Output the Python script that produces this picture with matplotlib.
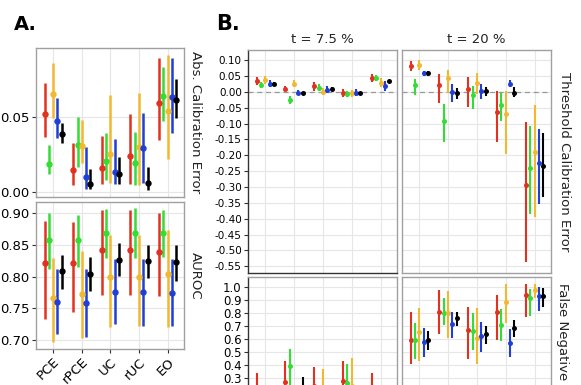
import numpy as np
import matplotlib
matplotlib.use('Agg')
import matplotlib.pyplot as plt
from matplotlib.ticker import MultipleLocator, FixedLocator, FormatStrFormatter

plt.rcParams['font.family'] = ['DejaVu Sans']
plt.rcParams['axes.unicode_minus'] = False

# 数据
categories = ['PCE', 'rPCE', 'UC', 'rUC', 'EO']
colors = ['#e2321f', '#33dd33', '#f2b830', '#1f3fd6', '#000000']
offsets = [-0.3, -0.15, 0.0, 0.15, 0.3]

# A. Abs. Calibration Error (one row per method: red, green, orange, blue, black)
ace_pt = [[0.0516, 0.0143, 0.0160, 0.0238, 0.0589],
          [0.0185, 0.0310, 0.0205, 0.0193, 0.0640],
          [0.0650, 0.0305, 0.0249, 0.0296, 0.0540],
          [0.0471, 0.0100, 0.0133, 0.0289, 0.0633],
          [0.0385, 0.0051, 0.0118, 0.0056, 0.0611]]
ace_lo = [[0.0367, 0.0045, 0.0051, 0.0049, 0.0345],
          [0.0118, 0.0163, 0.0078, 0.0043, 0.0473],
          [0.0490, 0.0193, 0.0056, 0.0043, 0.0216],
          [0.0360, 0.0020, 0.0049, 0.0060, 0.0393],
          [0.0327, 0.0016, 0.0051, 0.0011, 0.0490]]
ace_hi = [[0.0723, 0.0322, 0.0371, 0.0516, 0.0889],
          [0.0310, 0.0496, 0.0393, 0.0400, 0.0833],
          [0.0856, 0.0478, 0.0645, 0.0656, 0.0911],
          [0.0623, 0.0296, 0.0350, 0.0523, 0.0889],
          [0.0460, 0.0150, 0.0229, 0.0163, 0.0750]]

# A. AUROC
auc_pt = [[0.821, 0.821, 0.843, 0.843, 0.839],
          [0.858, 0.858, 0.869, 0.869, 0.869],
          [0.766, 0.773, 0.799, 0.799, 0.804],
          [0.760, 0.759, 0.776, 0.776, 0.775],
          [0.809, 0.805, 0.827, 0.825, 0.823]]
auc_lo = [[0.734, 0.745, 0.771, 0.771, 0.769],
          [0.813, 0.816, 0.830, 0.829, 0.831],
          [0.697, 0.704, 0.721, 0.722, 0.721],
          [0.709, 0.705, 0.725, 0.722, 0.722],
          [0.780, 0.777, 0.801, 0.798, 0.794]]
auc_hi = [[0.888, 0.887, 0.906, 0.906, 0.901],
          [0.900, 0.897, 0.907, 0.908, 0.906],
          [0.829, 0.841, 0.866, 0.866, 0.874],
          [0.812, 0.813, 0.828, 0.828, 0.828],
          [0.834, 0.831, 0.853, 0.850, 0.850]]

# B. Threshold Calibration Error, t = 7.5 %
tce75_pt = [[0.034, 0.010, 0.017, -0.004, 0.043],
            [0.022, -0.025, 0.0135, -0.006, 0.043],
            [0.038, 0.026, 0.001, -0.005, 0.029],
            [0.026, -0.002, 0.007, -0.002, 0.019],
            [0.026, -0.002, 0.010, -0.002, 0.034]]
tce75_err = [[0.012, 0.008, 0.015, 0.012, 0.012],
             [0.010, 0.012, 0.012, 0.010, 0.010],
             [0.012, 0.012, 0.012, 0.012, 0.015],
             [0.010, 0.008, 0.012, 0.010, 0.015],
             [0.004, 0.003, 0.004, 0.003, 0.005]]

# B. Threshold Calibration Error, t = 20 %
tce20_pt = [[0.0815, 0.022, 0.0085, -0.062, -0.295],
            [0.021, -0.093, -0.010, -0.041, -0.239],
            [0.085, 0.043, 0.029, -0.070, -0.190],
            [0.0585, 0.001, 0.003, 0.026, -0.224],
            [0.058, -0.005, 0.003, -0.002, -0.234]]
tce20_lo = [[0.066, -0.035, -0.047, -0.159, -0.537],
            [-0.009, -0.159, -0.054, -0.091, -0.386],
            [0.069, -0.004, -0.007, -0.195, -0.394],
            [0.050, -0.031, -0.022, 0.015, -0.354],
            [0.051, -0.022, -0.014, -0.017, -0.331]]
tce20_hi = [[0.097, 0.055, 0.047, 0.003, -0.096],
            [0.040, -0.039, 0.019, -0.002, -0.107],
            [0.102, 0.068, 0.060, 0.003, -0.042],
            [0.067, 0.026, 0.026, 0.036, -0.117],
            [0.065, 0.012, 0.014, 0.014, -0.131]]

# B. False Negative Rate, t = 7.5 %
fnr75_pt = [[0.20, 0.27, 0.24, 0.28, 0.20],
            [0.14, 0.39, 0.13, 0.26, 0.13],
            [0.12, 0.14, 0.22, 0.24, 0.12],
            [0.10, 0.12, 0.11, 0.12, 0.10],
            [0.12, 0.22, 0.13, 0.14, 0.12]]
fnr75_lo = [[0.08, 0.12, 0.10, 0.13, 0.08],
            [0.05, 0.24, 0.05, 0.12, 0.05],
            [0.04, 0.05, 0.08, 0.10, 0.04],
            [0.03, 0.04, 0.03, 0.04, 0.03],
            [0.07, 0.15, 0.08, 0.09, 0.07]]
fnr75_hi = [[0.34, 0.43, 0.385, 0.43, 0.34],
            [0.24, 0.525, 0.23, 0.41, 0.23],
            [0.22, 0.24, 0.365, 0.455, 0.22],
            [0.20, 0.22, 0.21, 0.22, 0.20],
            [0.18, 0.31, 0.19, 0.20, 0.18]]

# B. False Negative Rate, t = 20 %
fnr20_pt = [[0.590, 0.808, 0.667, 0.808, 0.936],
            [0.590, 0.795, 0.662, 0.705, 0.911],
            [0.654, 0.795, 0.608, 0.885, 0.975],
            [0.577, 0.711, 0.621, 0.569, 0.928],
            [0.590, 0.757, 0.636, 0.680, 0.928]]
fnr20_lo = [[0.410, 0.636, 0.449, 0.590, 0.769],
            [0.449, 0.705, 0.513, 0.585, 0.774],
            [0.430, 0.603, 0.405, 0.723, 0.910],
            [0.457, 0.603, 0.500, 0.457, 0.815],
            [0.513, 0.698, 0.559, 0.611, 0.846]]
fnr20_hi = [[0.803, 0.975, 0.846, 0.936, 1.020],
            [0.718, 0.911, 0.795, 0.826, 0.980],
            [0.838, 0.969, 0.834, 1.020, 1.018],
            [0.680, 0.808, 0.731, 0.672, 1.000],
            [0.662, 0.808, 0.698, 0.744, 0.987]]
fnr_ticks = [0.3, 0.4, 0.5, 0.6, 0.7, 0.8, 0.9, 1.0]

W, H = 581, 385
fig = plt.figure(figsize=(W / 100, H / 100), dpi=100)


def box(l, r, t, b):
    return [l / W, 1 - b / H, (r - l) / W, (b - t) / H]


def draw(ax, pt, lo, hi, ms, lw):
    x = np.arange(len(categories))
    for i in range(len(colors)):
        p = np.array(pt[i])
        yerr = [p - np.array(lo[i]), np.array(hi[i]) - p]
        ax.errorbar(x + offsets[i], p, yerr=yerr, fmt='o', color=colors[i],
                    ms=ms, mew=0, elinewidth=lw, capsize=0, zorder=3)
    ax.set_xlim(-0.6, 4.57)
    ax.set_xticks(x)
    ax.grid(True, color='#e6e6e6', lw=0.8, zorder=0)
    ax.set_axisbelow(True)


def style(ax, dark_left=False, labelsize=9.5):
    for s in ['top', 'right', 'left', 'bottom']:
        ax.spines[s].set_color('#a0a0a0')
        ax.spines[s].set_linewidth(1.0)
    if dark_left:
        ax.spines['left'].set_color('#333333')
        ax.spines['bottom'].set_color('#333333')
    ax.tick_params(labelsize=labelsize, length=3, width=0.8, color='#333333', pad=1.5)


# ---------- A ----------
ax1 = fig.add_axes(box(36, 184, 48, 197))
draw(ax1, ace_pt, ace_lo, ace_hi, ms=4.6, lw=1.8)
ax1.set_ylim(-0.0035, 0.0958)
ax1.yaxis.set_major_locator(MultipleLocator(0.05))
ax1.yaxis.set_major_formatter(FormatStrFormatter('%.2f'))
ax1.set_xticklabels([])
style(ax1)
ax1.tick_params(axis='x', length=0)
ax1.text(1.035, 0.5, 'Abs. Calibration Error', transform=ax1.transAxes, rotation=-90,
         ha='left', va='center', fontsize=9.5, color='#222222')

ax2 = fig.add_axes(box(36, 184, 202, 349))
draw(ax2, auc_pt, auc_lo, auc_hi, ms=4.6, lw=1.8)
ax2.set_ylim(0.686, 0.918)
ax2.yaxis.set_major_locator(MultipleLocator(0.05))
ax2.yaxis.set_major_formatter(FormatStrFormatter('%.2f'))
ax2.set_xticklabels(categories, rotation=45, ha='right', rotation_mode='anchor')
style(ax2)
ax2.text(1.035, 0.5, 'AUROC', transform=ax2.transAxes, rotation=-90,
         ha='left', va='center', fontsize=9.5, color='#222222')

fig.text(14 / W, 1 - 24 / H, 'A.', fontsize=14, fontweight='bold', va='center')

# ---------- B ----------
b_top = [box(248, 397, 50, 273), box(402, 551, 50, 273)]
b_bot = [box(248, 397, 277, 430), box(402, 551, 277, 430)]
tce = [(tce75_pt, [[p - e for p, e in zip(a, b)] for a, b in zip(tce75_pt, tce75_err)],
        [[p + e for p, e in zip(a, b)] for a, b in zip(tce75_pt, tce75_err)]),
       (tce20_pt, tce20_lo, tce20_hi)]
fnr = [(fnr75_pt, fnr75_lo, fnr75_hi), (fnr20_pt, fnr20_lo, fnr20_hi)]
titles = ['t = 7.5 %', 't = 20 %']

for j in range(2):
    ax = fig.add_axes(b_top[j])
    draw(ax, *tce[j], ms=3.6, lw=1.5)
    ax.axhline(0, color='#999999', lw=0.9, ls=(0, (4, 3)), zorder=1)
    ax.set_ylim(-0.571, 0.132)
    ax.yaxis.set_major_locator(MultipleLocator(0.05))
    ax.yaxis.set_major_formatter(FormatStrFormatter('%.2f'))
    ax.set_xticklabels([])
    style(ax, dark_left=(j == 0), labelsize=7.5)
    ax.tick_params(axis='x', length=0)
    ax.set_title(titles[j], fontsize=9.5, pad=5, color='#222222')
    if j == 1:
        ax.set_yticklabels([])
        ax.tick_params(axis='y', length=0)
        ax.text(1.045, 0.5, 'Threshold Calibration Error', transform=ax.transAxes,
                rotation=-90, ha='left', va='center', fontsize=9.5, color='#222222')

    axb = fig.add_axes(b_bot[j])
    draw(axb, *fnr[j], ms=3.6, lw=1.5)
    axb.set_ylim(-0.1, 1.075)
    axb.yaxis.set_major_locator(FixedLocator(fnr_ticks))
    axb.yaxis.set_major_formatter(FormatStrFormatter('%.1f'))
    axb.set_xticklabels([])
    style(axb, dark_left=(j == 0), labelsize=8.5)
    axb.tick_params(axis='x', length=0)
    if j == 1:
        axb.set_yticklabels([])
        axb.tick_params(axis='y', length=0)

fig.text(563 / W, 1 - 283 / H, 'False Negative Rate', rotation=-90, ha='center',
         va='top', fontsize=9.5, color='#222222')
fig.text(216 / W, 1 - 24 / H, 'B.', fontsize=15, fontweight='bold', va='center')

fig.savefig('out.png', dpi=100)
